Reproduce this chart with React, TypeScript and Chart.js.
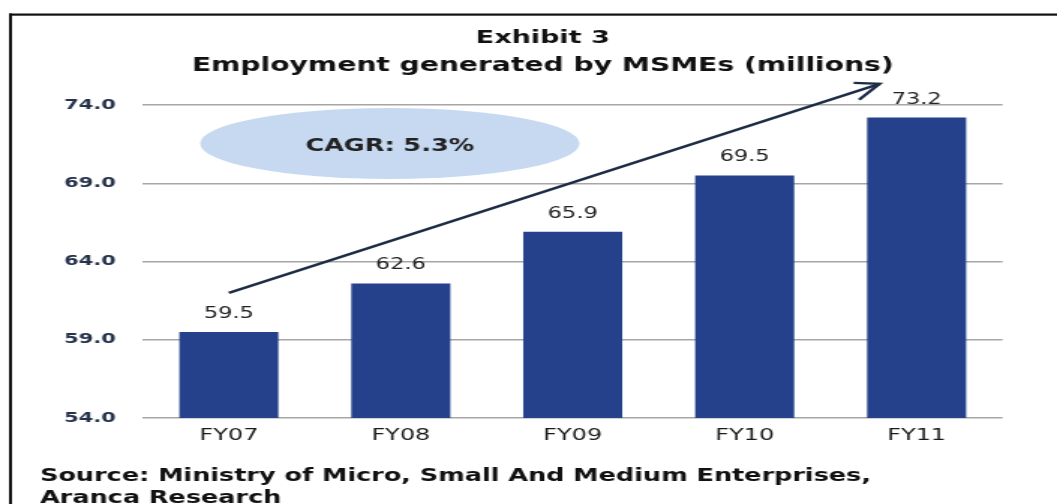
import React, { useEffect, useRef } from "react";
import { Chart, registerables } from "chart.js";

Chart.register(...registerables);

// ---- data ----
const categories = ["FY07", "FY08", "FY09", "FY10", "FY11"];
const employment = [59.5, 62.6, 65.9, 69.5, 73.2];
const yTicks = [54, 59, 64, 69, 74];
const titleLines = ["Exhibit 3", "Employment generated by MSMEs (millions)"];
const sourceLines = [
  "Source: Ministry of Micro, Small And Medium Enterprises,",
  "Aranca Research",
];
const cagrLabel = "CAGR: 5.3%";
// arrow runs from this value above FY07 to this value near FY11
const arrowFrom = 62.0;
const arrowTo = 75.35;

// ---- layout (the reference is horizontally stretched) ----
const OUT_W = 1057;
const H = 504;
const W = 705;
const S = OUT_W / W;
const FONT = "'DejaVu Sans'";

Chart.defaults.font.family = FONT;

const decorations = {
  id: "decorations",
  afterDraw(chart: any) {
    const { ctx } = chart;
    const meta = chart.getDatasetMeta(0);
    const y = chart.scales.y;
    ctx.save();

    // frame
    ctx.fillStyle = "#111";
    ctx.fillRect(6, 13.5, W, 2.2);
    ctx.fillRect(6, 13.5, 2, H);

    // title
    ctx.fillStyle = "#111";
    ctx.textAlign = "center";
    ctx.textBaseline = "alphabetic";
    ctx.font = `bold 18px ${FONT}`;
    ctx.fillText(titleLines[0], 362, 43);
    ctx.font = `bold 18.8px ${FONT}`;
    ctx.fillText(titleLines[1], 362, 71);

    // source
    ctx.textAlign = "left";
    ctx.font = `bold 17px ${FONT}`;
    ctx.fillText(sourceLines[0], 26.7, 481);
    ctx.fillText(sourceLines[1], 26.7, 503);

    // CAGR ellipse
    ctx.fillStyle = "#c6d9f1";
    ctx.beginPath();
    ctx.ellipse(260, 143.5, 126.5, 35.5, 0, 0, Math.PI * 2);
    ctx.fill();
    ctx.fillStyle = "#222";
    ctx.textAlign = "center";
    ctx.font = `bold 17px ${FONT}`;
    ctx.fillText(cagrLabel, 260, 151);

    // value labels
    ctx.font = `15px ${FONT}`;
    ctx.fillStyle = "#222";
    meta.data.forEach((bar: any, i: number) => {
      ctx.fillText(employment[i].toFixed(1), bar.x, bar.y - 14);
    });

    // arrow (computed in display space, drawn in canvas space)
    const sx = meta.data[0].x * S;
    const sy = y.getPixelForValue(arrowFrom);
    const ex = meta.data[meta.data.length - 1].x * S - 37;
    const ey = y.getPixelForValue(arrowTo);
    const ang = Math.atan2(ey - sy, ex - sx);
    const L = 26;
    const spread = (20 * Math.PI) / 180;
    const h1x = ex - L * Math.cos(ang - spread);
    const h1y = ey - L * Math.sin(ang - spread);
    const h2x = ex - L * Math.cos(ang + spread);
    const h2y = ey - L * Math.sin(ang + spread);
    ctx.strokeStyle = "#1e2b45";
    ctx.lineWidth = 2.4;
    ctx.lineCap = "butt";
    ctx.lineJoin = "miter";
    ctx.beginPath();
    ctx.moveTo(sx / S, sy);
    ctx.lineTo(ex / S, ey);
    ctx.stroke();
    ctx.beginPath();
    ctx.moveTo(h1x / S, h1y);
    ctx.lineTo(ex / S, ey);
    ctx.lineTo(h2x / S, h2y);
    ctx.stroke();

    ctx.restore();
  },
};

export default function App() {
  const ref = useRef<HTMLCanvasElement>(null);

  useEffect(() => {
    const chart = new Chart(ref.current as HTMLCanvasElement, {
      type: "bar",
      data: {
        labels: categories,
        datasets: [
          {
            data: employment,
            backgroundColor: "#25418c",
            barPercentage: 0.576,
            categoryPercentage: 1,
          },
        ],
      },
      options: {
        responsive: false,
        animation: false,
        devicePixelRatio: 1,
        layout: { padding: { left: 0, top: 105, right: W - 668.7, bottom: 0 } },
        plugins: {
          legend: { display: false },
          title: { display: false },
          tooltip: { enabled: false },
        },
        scales: {
          x: {
            grid: { display: false, drawTicks: false },
            border: { display: false },
            ticks: {
              color: "#1a1a1a",
              font: { size: 16, family: FONT },
              padding: 8,
            },
            afterFit: (s: any) => {
              s.height = H - 418;
            },
          },
          y: {
            min: 54,
            max: 74,
            grid: { color: "#a6a6a6", lineWidth: 1.5, drawTicks: false },
            border: { display: false },
            ticks: {
              padding: 18,
              color: "#26324a",
              font: { size: 14, weight: "bold", family: FONT },
              callback: (v: any) => Number(v).toFixed(1),
            },
            afterBuildTicks: (s: any) => {
              s.ticks = yTicks.map((v) => ({ value: v }));
            },
            afterFit: (s: any) => {
              s.width = 95.3;
            },
          },
        },
      } as any,
      plugins: [decorations],
    });
    return () => chart.destroy();
  }, []);

  return (
    <div
      style={{
        position: "fixed",
        left: 0,
        top: 0,
        width: OUT_W,
        height: H,
        overflow: "hidden",
        background: "#fff",
      }}
    >
      <div
        style={{
          width: W,
          height: H,
          transform: `scaleX(${S})`,
          transformOrigin: "0 0",
        }}
      >
        <canvas
          ref={ref}
          width={W}
          height={H}
          style={{ display: "block", width: W, height: H }}
        />
      </div>
    </div>
  );
}
